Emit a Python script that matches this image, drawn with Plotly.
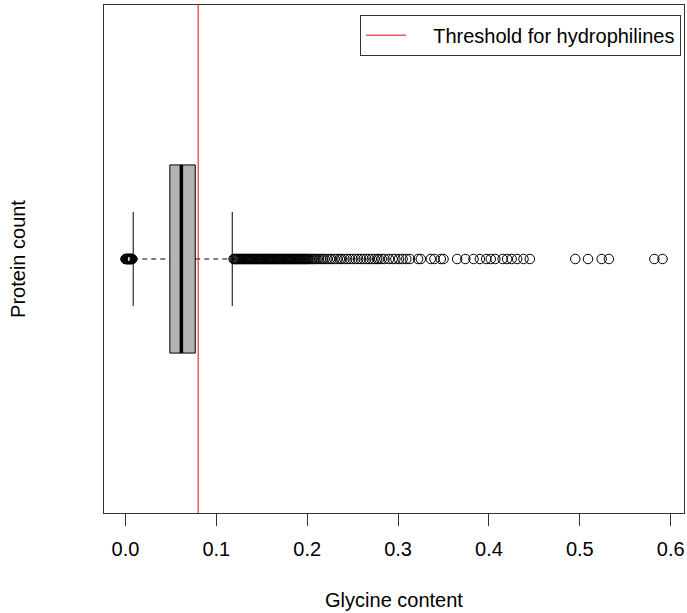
import plotly.graph_objects as go

# ---- data ----
q1 = 0.0488
median = 0.0615
q3 = 0.0768
lower_whisker = 0.0085
upper_whisker = 0.1175
threshold = 0.08

lower_outliers = [0.0, 0.0005, 0.001, 0.0015, 0.002, 0.0025, 0.003, 0.0035,
                  0.004, 0.0045, 0.005, 0.0055, 0.006, 0.0065, 0.007, 0.0075]

upper_outliers = [
    0.119, 0.120, 0.121, 0.122, 0.123, 0.124, 0.125, 0.126, 0.127, 0.128,
    0.129, 0.130, 0.131, 0.132, 0.133, 0.134, 0.135, 0.136, 0.137, 0.138,
    0.139, 0.140, 0.141, 0.142, 0.143, 0.144, 0.145, 0.146, 0.147, 0.148,
    0.149, 0.150, 0.151, 0.152, 0.153, 0.154, 0.155, 0.156, 0.157, 0.158,
    0.159, 0.160, 0.161, 0.162, 0.163, 0.164, 0.165, 0.166, 0.167, 0.168,
    0.169, 0.170, 0.171, 0.172, 0.173, 0.174, 0.175, 0.176, 0.177, 0.178,
    0.179, 0.180, 0.181, 0.182, 0.183, 0.184, 0.185, 0.186, 0.187, 0.188,
    0.189, 0.190, 0.191, 0.192, 0.193, 0.194, 0.195, 0.196, 0.197, 0.198,
    0.199, 0.200, 0.2015, 0.203, 0.2045, 0.206, 0.2075, 0.209,
    0.211, 0.213, 0.215, 0.217, 0.219, 0.222, 0.225, 0.227, 0.23, 0.233,
    0.236, 0.238, 0.241, 0.244, 0.247, 0.25, 0.253, 0.256, 0.259, 0.262,
    0.265, 0.268, 0.271, 0.274, 0.277, 0.279, 0.282, 0.285, 0.29, 0.294,
    0.297, 0.301, 0.305, 0.309, 0.313, 0.322, 0.325, 0.336, 0.34, 0.347,
    0.35, 0.365, 0.374, 0.383, 0.39, 0.397, 0.402, 0.407, 0.415, 0.42,
    0.425, 0.431, 0.438, 0.445, 0.495, 0.509, 0.524, 0.532, 0.582, 0.591,
]

x_ticks = [0.0, 0.1, 0.2, 0.3, 0.4, 0.5, 0.6]
x_tick_labels = ["0.0", "0.1", "0.2", "0.3", "0.4", "0.5", "0.6"]

x_title = "Glycine content"
y_title = "Protein count"
legend_label = "Threshold for hydrophilines"

# ---- geometry / style ----
center = 1.0
box_half = 0.2
cap_half = 0.1
y_range = [0.46, 1.54]
all_vals = lower_outliers + upper_outliers
span = max(all_vals) - min(all_vals)
x_range = [min(all_vals) - 0.04 * span, max(all_vals) + 0.04 * span]

FONT = "Liberation Sans, Arial, Helvetica, sans-serif"

fig = go.Figure()

# dashed whiskers
fig.add_trace(go.Scatter(
    x=[lower_whisker, q1], y=[center, center], mode="lines",
    line=dict(color="black", width=1, dash="5px,4px"), showlegend=False, hoverinfo="skip"))
fig.add_trace(go.Scatter(
    x=[q3, upper_whisker], y=[center, center], mode="lines",
    line=dict(color="black", width=1, dash="5px,4px"), showlegend=False, hoverinfo="skip"))
# whisker caps
for w in (lower_whisker, upper_whisker):
    fig.add_trace(go.Scatter(
        x=[w, w], y=[center - cap_half, center + cap_half], mode="lines",
        line=dict(color="black", width=1), showlegend=False, hoverinfo="skip"))
# box
fig.add_trace(go.Scatter(
    x=[q1, q3, q3, q1, q1],
    y=[center - box_half, center - box_half, center + box_half, center + box_half, center - box_half],
    mode="lines", fill="toself", fillcolor="#B3B3B3",
    line=dict(color="black", width=1), showlegend=False, hoverinfo="skip"))
# median
fig.add_trace(go.Scatter(
    x=[median, median], y=[center - box_half, center + box_half], mode="lines",
    line=dict(color="black", width=3.5), showlegend=False, hoverinfo="skip"))
# outliers
outliers = lower_outliers + upper_outliers
fig.add_trace(go.Scatter(
    x=outliers, y=[center] * len(outliers), mode="markers",
    marker=dict(symbol="circle-open", size=9.5, color="black", line=dict(width=1, color="black")),
    showlegend=False, hoverinfo="x"))
# threshold line
fig.add_trace(go.Scatter(
    x=[threshold, threshold], y=y_range, mode="lines",
    line=dict(color="red", width=1),
    name="\u00a0\u00a0\u00a0\u00a0" + legend_label, showlegend=True))

fig.update_layout(
    width=687, height=613,
    margin=dict(l=104, r=3, t=5, b=100, autoexpand=False),
    paper_bgcolor="white", plot_bgcolor="white",
    font=dict(family=FONT, size=20, color="black"),
    showlegend=True,
    legend=dict(
        x=0.9948, y=0.981, xanchor="right", yanchor="top",
        bordercolor="#333333", borderwidth=1, bgcolor="white",
        font=dict(family=FONT, size=20, color="black"),
        itemwidth=40,
    ),
    xaxis=dict(
        range=x_range, tickmode="array", tickvals=x_ticks, ticktext=x_tick_labels,
        ticks="outside", ticklen=12, tickwidth=1, tickcolor="#333333",
        showline=True, linecolor="#333333", linewidth=1, mirror=True,
        showgrid=False, zeroline=False, automargin=False,
        tickfont=dict(family=FONT, size=20, color="black"),
        title=dict(text=x_title, standoff=33, font=dict(family=FONT, size=20, color="black")),
        ticklabelstandoff=6,
    ),
    yaxis=dict(
        range=y_range, showticklabels=False, ticks="",
        showline=True, linecolor="#333333", linewidth=1, mirror=True,
        showgrid=False, zeroline=False, automargin=False,
        title=dict(text=y_title, standoff=72, font=dict(family=FONT, size=20, color="black")),
    ),
)

fig.write_html("out.html", config={"displayModeBar": False},
               post_script="document.body.style.margin='0';")
